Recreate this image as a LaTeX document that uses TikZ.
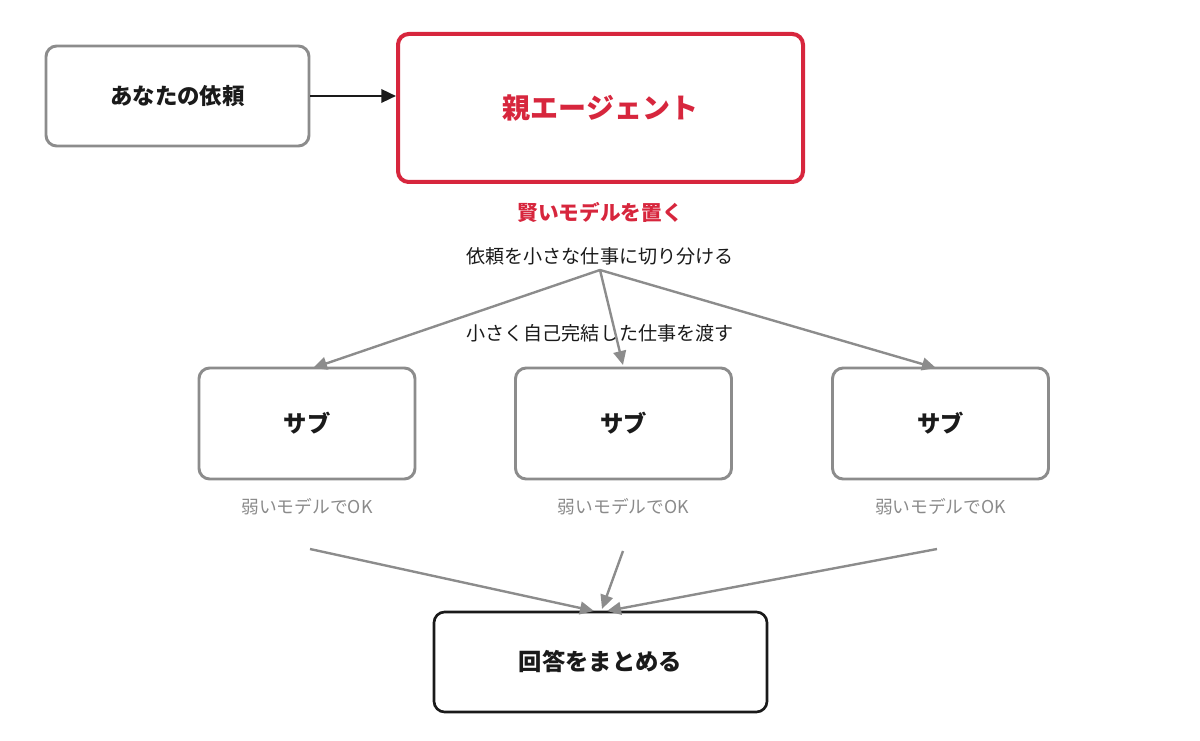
\documentclass[tikz,border=0pt]{standalone}
\usepackage{fontspec}
\setmainfont{Noto Sans CJK JP}
\usetikzlibrary{arrows.meta}
\definecolor{boxgray}{HTML}{8C8C8C}
\definecolor{accred}{HTML}{D7263D}
\definecolor{ink}{HTML}{1A1A1A}
\definecolor{subtext}{HTML}{8A8A8A}
\begin{document}
\begin{tikzpicture}[x=0.75pt,y=-0.75pt,
  box/.style={draw=boxgray,line width=2.2pt,rounded corners=8pt,fill=white,inner sep=0pt},
  bigbox/.style={box,draw=accred,line width=3pt},
  endbox/.style={box,draw=ink,line width=2pt},
  boxtext/.style={font=\fontsize{17.5}{21}\selectfont\bfseries,text=ink},
  lbl/.style={font=\fontsize{14.3}{17}\selectfont,text=ink},
  weak/.style={font=\fontsize{13.3}{16}\selectfont,text=subtext},
  conn/.style={draw=boxgray,line width=1.8pt,-{Triangle[length=10.5pt,width=9.5pt]}},
  darkconn/.style={draw=ink,line width=1.8pt,-{Triangle[length=11pt,width=10pt]}}]
\useasboundingbox (0,0) rectangle (1200,741);
% boxes
\node[box,minimum width=197.25pt,minimum height=75pt] (req) at (177.5,96) {};
\node[boxtext,font=\fontsize{16.8}{20}\selectfont\bfseries] at (req) {あなたの依頼};
\node[bigbox,minimum width=303.75pt,minimum height=111pt] (parent) at (600.5,108) {};
\node[font=\fontsize{21}{26}\selectfont\bfseries,text=accred] (ptext) at (parent) {親エージェント};
\node[font=\fontsize{15.5}{19}\selectfont\bfseries,text=accred] (smart) at (600,212) {賢いモデルを置く};
\node[lbl] (split) at (600,256) {依頼を小さな仕事に切り分ける};
\node[lbl] (hand) at (600,333) {小さく自己完結した仕事を渡す};
\foreach \n/\cx in {s1/307,s2/623.5,s3/940.5}{
  \node[box,minimum width=162pt,minimum height=83.25pt] (\n) at (\cx,423.5) {};
  \node[boxtext] at (\n) {サブ};
  \node[weak] (\n w) at (\cx,507) {弱いモデルでOK};
}
\node[endbox,minimum width=249.75pt,minimum height=75pt] (ans) at (600.5,662) {};
\node[boxtext] at (ans) {回答をまとめる};
% coordinates
\coordinate (fork) at (600,270);
\coordinate (t1) at (313,368);
\coordinate (t2) at (623,365);
\coordinate (t3) at (936,368);
\coordinate (b1) at (310,549);
\coordinate (b2) at (623,551);
\coordinate (b3) at (937,549);
\coordinate (e1) at (594,611);
\coordinate (e2) at (602,609);
\coordinate (e3) at (607,611);
% connectors
\draw[darkconn] (req.east) -- (req.east -| parent.west);
\draw[conn] (fork) -- (t1);
\draw[conn] (fork) -- (t2);
\draw[conn] (fork) -- (t3);
\draw[conn] (b1) -- (e1);
\draw[conn] (b2) -- (e2);
\draw[conn] (b3) -- (e3);
\end{tikzpicture}
\end{document}
